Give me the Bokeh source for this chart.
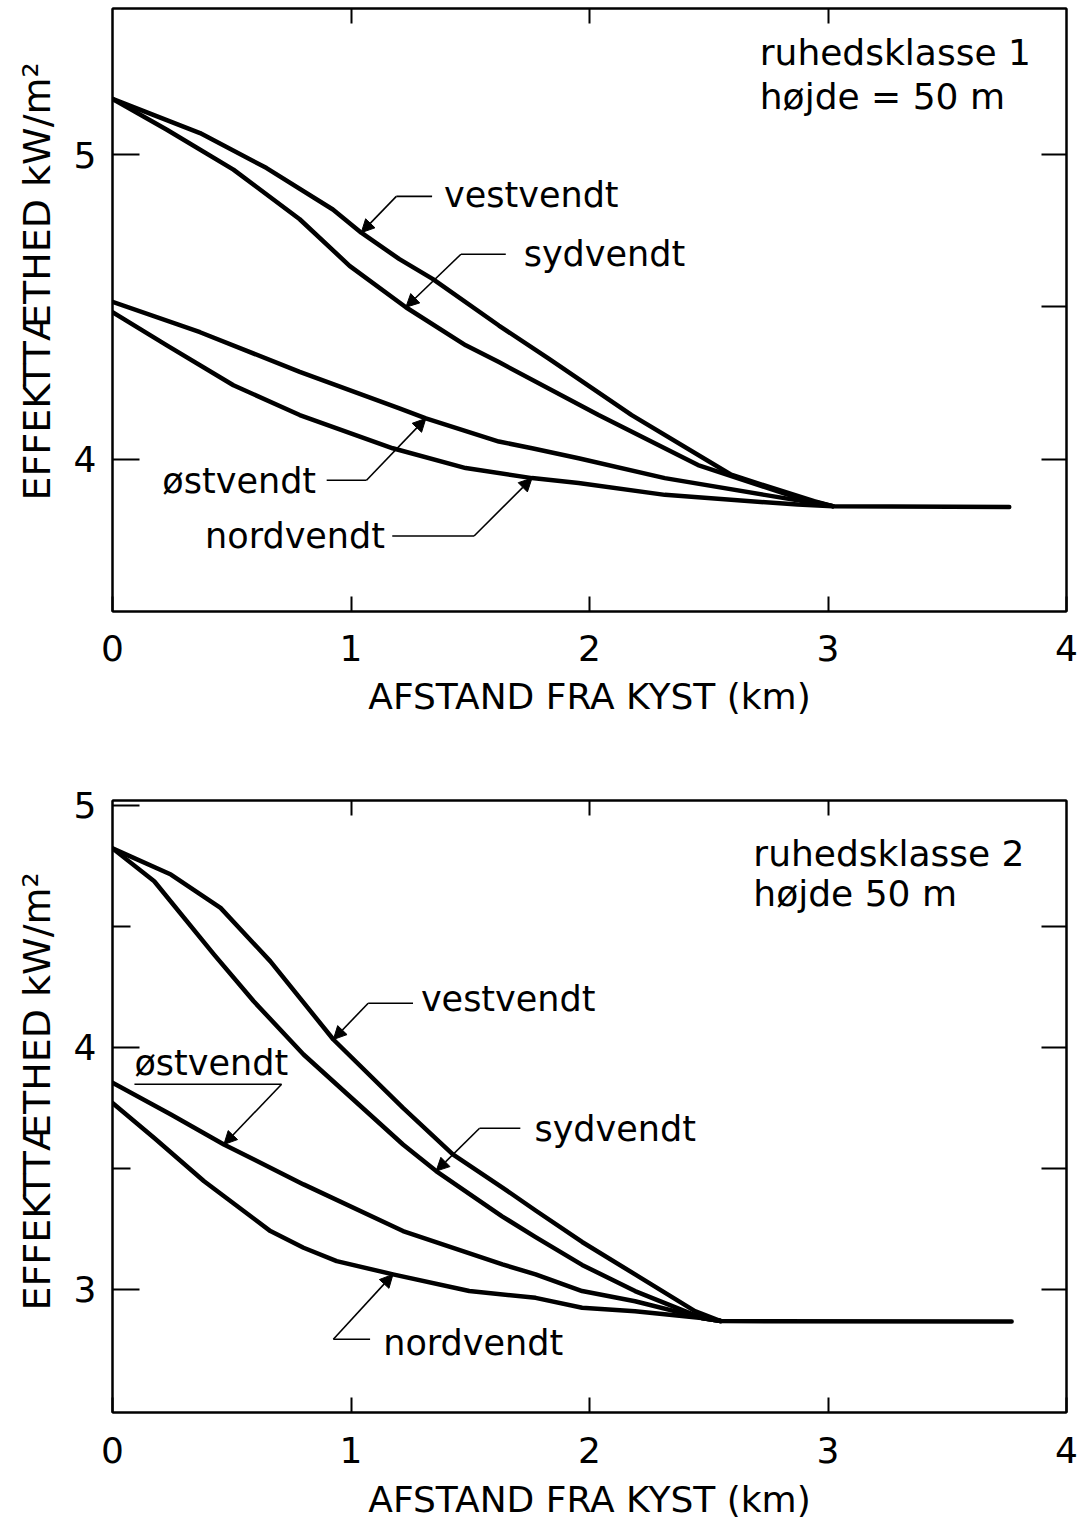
import numpy as np
from bokeh.plotting import figure
from bokeh.models import (Range1d, LinearAxis, FixedTicker, Label, Arrow, NormalHead,
                          CustomLabelingPolicy, Title)
from bokeh.layouts import column
from bokeh.embed import file_html
from bokeh.resources import INLINE

# ---------------- data: panel 1 (ruhedsklasse 1, højde 50 m) ----------------
x_vest1 = [0.0, 0.367, 0.646, 0.924, 1.043, 1.203, 1.342, 1.620, 1.829, 2.177, 2.594, 2.942, 3.02, 3.76]
y_vest1 = [5.183, 5.071, 4.956, 4.820, 4.744, 4.657, 4.592, 4.439, 4.330, 4.145, 3.949, 3.862, 3.846, 3.843]

x_syd1 = [0.0, 0.228, 0.507, 0.785, 0.994, 1.230, 1.481, 1.620, 2.038, 2.455, 2.873, 3.02]
y_syd1 = [5.183, 5.082, 4.951, 4.788, 4.635, 4.499, 4.374, 4.319, 4.145, 3.981, 3.873, 3.846]

x_ost1 = [0.0, 0.367, 0.785, 1.203, 1.314, 1.620, 1.759, 1.954, 2.316, 2.734, 3.02]
y_ost1 = [4.517, 4.417, 4.287, 4.167, 4.134, 4.058, 4.036, 4.003, 3.938, 3.883, 3.846]

x_nord1 = [0.0, 0.228, 0.507, 0.785, 1.175, 1.481, 1.759, 1.954, 2.316, 2.873, 3.02]
y_nord1 = [4.483, 4.374, 4.243, 4.145, 4.036, 3.971, 3.938, 3.922, 3.883, 3.851, 3.846]

# ---------------- data: panel 2 (ruhedsklasse 2, højde 50 m) ----------------
x_vest2 = [0.0, 0.245, 0.453, 0.662, 0.926, 1.218, 1.427, 1.635, 1.774, 1.969, 2.191, 2.442, 2.55, 3.77]
y_vest2 = [4.822, 4.714, 4.576, 4.355, 4.032, 3.749, 3.557, 3.420, 3.325, 3.195, 3.061, 2.909, 2.868, 2.866]

x_syd2 = [0.0, 0.175, 0.426, 0.592, 0.801, 1.079, 1.218, 1.357, 1.635, 1.774, 1.969, 2.191, 2.470, 2.55]
y_syd2 = [4.822, 4.686, 4.383, 4.190, 3.970, 3.722, 3.598, 3.488, 3.300, 3.215, 3.100, 2.992, 2.881, 2.868]

x_ost2 = [0.0, 0.245, 0.467, 0.801, 1.218, 1.635, 1.774, 1.969, 2.191, 2.470, 2.55]
y_ost2 = [3.853, 3.722, 3.598, 3.433, 3.240, 3.102, 3.061, 2.992, 2.950, 2.881, 2.868]

x_nord2 = [0.0, 0.175, 0.384, 0.662, 0.801, 0.940, 1.176, 1.496, 1.774, 1.969, 2.191, 2.470, 2.55]
y_nord2 = [3.770, 3.625, 3.446, 3.240, 3.171, 3.116, 3.061, 2.992, 2.964, 2.923, 2.909, 2.881, 2.868]

x_tick_labels = ["0", "1", "2", "3", "4"]
x_title = "AFSTAND FRA KYST (km)"
y_title = "EFFEKTTÆTHED kW/m²"

FONT = "DejaVu Sans"
NO_LABELS = "return []"


def make_panel(height, frame_top, frame_bottom_border, y_lo, y_hi, left_major, left_minor,
               right_ticks, left_border, tick_standoff, title_standoff, ytitle_offset,
               series, labels, titles):
    p = figure(width=1083, height=height, x_range=Range1d(0, 4), y_range=Range1d(y_lo, y_hi),
               output_backend="svg", toolbar_location=None,
               min_border_left=left_border, min_border_right=1083 - (left_border + 958),
               min_border_top=frame_top, min_border_bottom=frame_bottom_border)
    p.background_fill_color = "white"
    p.border_fill_color = "white"
    p.grid.visible = False
    p.outline_line_color = "black"
    p.outline_line_width = 2

    bx = p.below[0]
    bx.ticker = FixedTicker(ticks=[0, 1, 2, 3, 4])
    bx.major_label_overrides = {i: t for i, t in enumerate(x_tick_labels)}
    bx.major_tick_in = 15
    bx.major_tick_out = 0
    bx.major_tick_line_width = 2
    bx.minor_tick_in = 0
    bx.minor_tick_out = 0
    bx.axis_line_width = 2
    bx.major_label_text_font = FONT
    bx.major_label_text_font_size = "36px"
    bx.major_label_text_color = "black"
    bx.major_label_standoff = tick_standoff
    bx.axis_label = x_title
    bx.axis_label_text_font = FONT
    bx.axis_label_text_font_style = "normal"
    bx.axis_label_text_font_size = "36px"
    bx.axis_label_text_color = "black"
    bx.axis_label_standoff = title_standoff

    ly = p.left[0]
    ly.ticker = FixedTicker(ticks=left_major, minor_ticks=left_minor)
    ly.major_tick_in = 27
    ly.major_tick_out = 0
    ly.minor_tick_in = 18
    ly.minor_tick_out = 0
    ly.major_tick_line_width = 2
    ly.minor_tick_line_width = 2
    ly.axis_line_width = 2
    ly.major_label_text_font = FONT
    ly.major_label_text_font_size = "36px"
    ly.major_label_text_color = "black"
    ly.major_label_standoff = 16
    ly.major_label_orientation = "horizontal"

    # y-axis title as a side title, starting a little above the frame bottom as in the reference
    p.add_layout(Title(text=y_title, align="left", offset=ytitle_offset, standoff=23,
                       text_font=FONT, text_font_size="38px", text_font_style="normal",
                       text_color="black"), "left")

    ax = LinearAxis(ticker=FixedTicker(ticks=[1, 2, 3]), major_tick_in=15, major_tick_out=0,
                    minor_tick_in=0, minor_tick_out=0, major_tick_line_width=2,
                    axis_line_width=2, major_label_text_font_size="0px", major_label_standoff=0,
                    major_label_policy=CustomLabelingPolicy(code=NO_LABELS))
    p.add_layout(ax, "above")
    ry = LinearAxis(ticker=FixedTicker(ticks=right_ticks), major_tick_in=25, major_tick_out=0,
                    minor_tick_in=0, minor_tick_out=0, major_tick_line_width=2,
                    axis_line_width=2, major_label_text_font_size="0px", major_label_standoff=0,
                    major_label_policy=CustomLabelingPolicy(code=NO_LABELS))
    p.add_layout(ry, "right")

    for xs, ys in series:
        p.line(xs, ys, line_color="black", line_width=4.5, line_join="round", line_cap="round")

    for txt, tx, ty, hx0, hx1, hy, tipx, (sx, sy) in labels:
        p.add_layout(Label(x=tx, y=ty, text=txt, text_font=FONT, text_font_size="35px",
                           text_baseline="middle", text_align="left", text_color="black"))
        p.line([hx0, hx1], [hy, hy], line_color="black", line_width=1.6)
        tipy = float(np.interp(tipx, sx, sy))
        p.add_layout(Arrow(x_start=hx1, y_start=hy, x_end=tipx, y_end=tipy,
                           line_color="black", line_width=1.6,
                           end=NormalHead(size=13, fill_color="black", line_color="black", line_width=1)))

    for txt, tx, ty in titles:
        p.add_layout(Label(x=tx, y=ty, text=txt, text_font=FONT, text_font_size="36px",
                           text_baseline="middle", text_align="left", text_color="black"))
    return p


p1 = make_panel(
    height=740, frame_top=8, frame_bottom_border=740 - 611, y_lo=3.5, y_hi=5.48,
    left_major=[4, 5], left_minor=[], right_ticks=[4, 4.5, 5], left_border=112,
    tick_standoff=23, title_standoff=12, ytitle_offset=111,
    series=[(x_vest1, y_vest1), (x_syd1, y_syd1), (x_ost1, y_ost1), (x_nord1, y_nord1)],
    labels=[
        ("vestvendt", 1.39, 4.866, 1.340, 1.190, 4.863, 1.043, (x_vest1, y_vest1)),
        ("sydvendt", 1.724, 4.673, 1.649, 1.461, 4.673, 1.230, (x_syd1, y_syd1)),
        ("østvendt", 0.209, 3.928, 0.898, 1.065, 3.931, 1.314, (x_ost1, y_ost1)),
        ("nordvendt", 0.388, 3.748, 1.173, 1.516, 3.748, 1.759, (x_nord1, y_nord1)),
    ],
    titles=[("ruhedsklasse 1", 2.714, 5.337), ("højde = 50 m", 2.714, 5.19)],
)

p2 = make_panel(
    height=784, frame_top=800 - 740, frame_bottom_border=1524 - 1412, y_lo=2.49, y_hi=5.02,
    left_major=[3, 4, 5], left_minor=[3.5, 4.5], right_ticks=[3, 3.5, 4, 4.5], left_border=108,
    tick_standoff=24, title_standoff=13, ytitle_offset=102,
    series=[(x_vest2, y_vest2), (x_syd2, y_syd2), (x_ost2, y_ost2), (x_nord2, y_nord2)],
    labels=[
        ("vestvendt", 1.293, 4.198, 1.260, 1.072, 4.182, 0.926, (x_vest2, y_vest2)),
        ("sydvendt", 1.769, 3.661, 1.710, 1.539, 3.665, 1.357, (x_syd2, y_syd2)),
        ("østvendt", 0.092, 3.934, 0.092, 0.709, 3.847, 0.467, (x_ost2, y_ost2)),
        ("nordvendt", 1.135, 2.777, 1.080, 0.926, 2.793, 1.176, (x_nord2, y_nord2)),
    ],
    titles=[("ruhedsklasse 2", 2.687, 4.802), ("højde 50 m", 2.687, 4.636)],
)

layout = column(p1, p2, spacing=0)
open("out.html", "w").write(file_html(layout, INLINE))
